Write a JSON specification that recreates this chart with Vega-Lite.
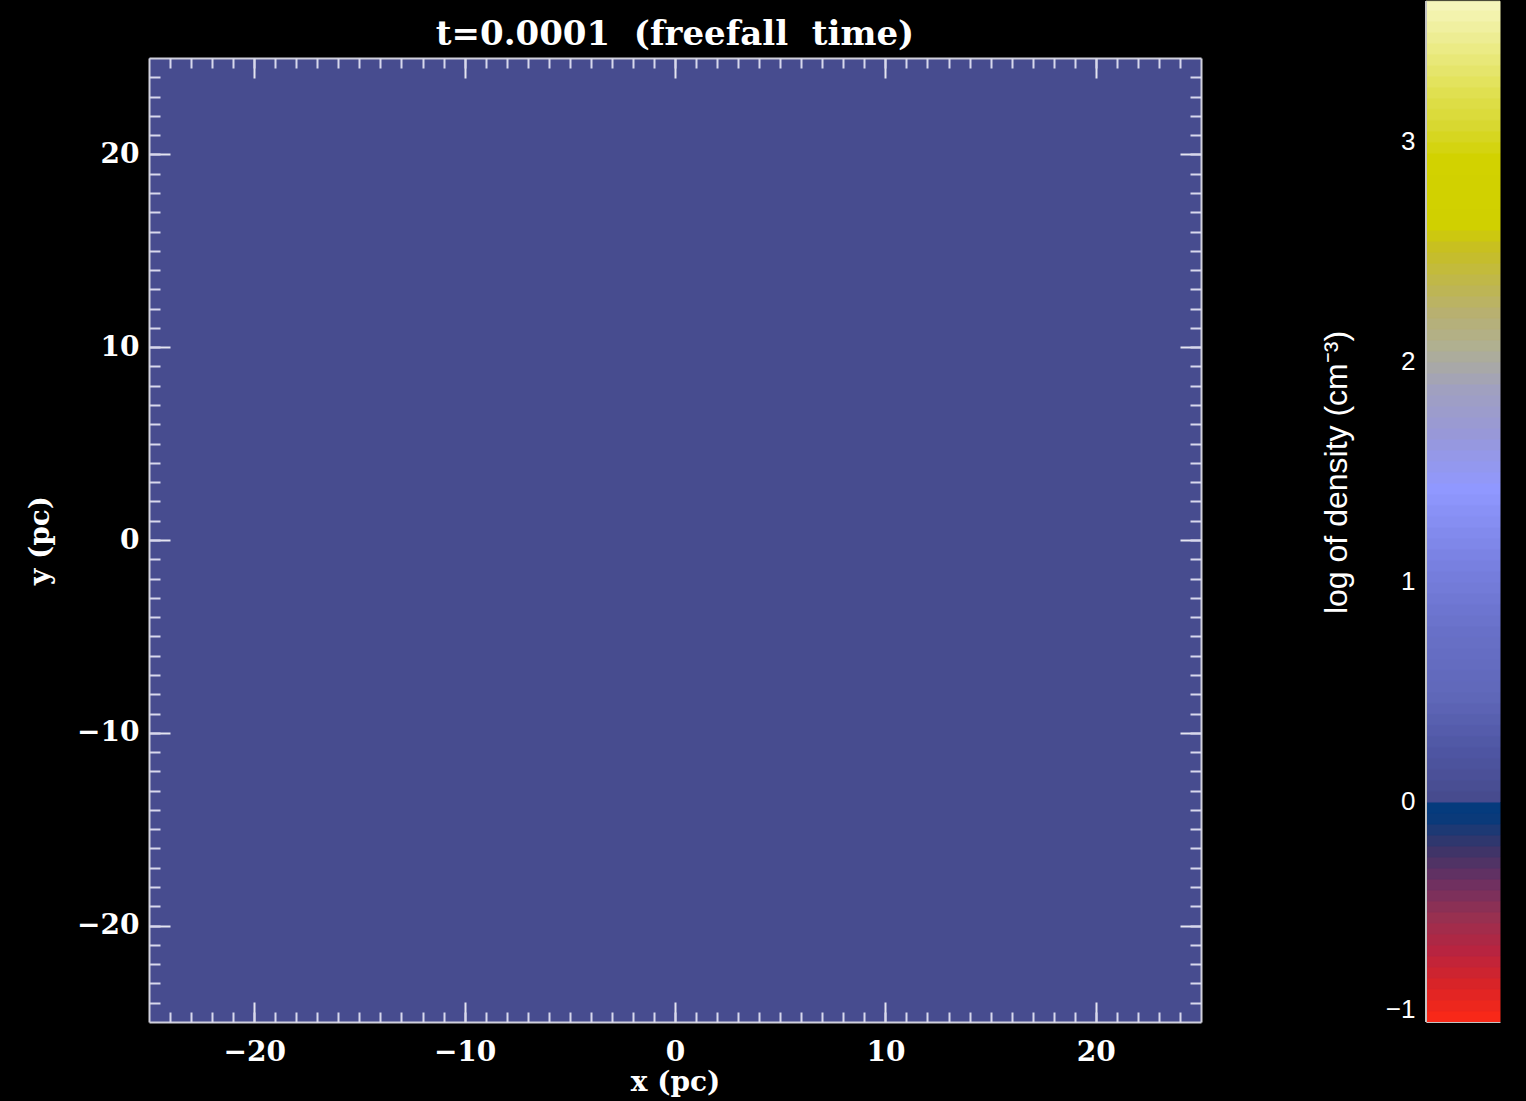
{
  "$schema": "https://vega.github.io/schema/vega-lite/v6.json",
  "background": "black",
  "padding": {"left": 26, "top": 0, "right": 40, "bottom": 10},
  "spacing": 118,
  "config": {"view": {"stroke": null}, "axis": {"grid": false}},
  "resolve": {"scale": {"color": "shared"}},
  "hconcat": [
    {
      "title": {"text": "t=0.0001 \u00a0(freefall \u00a0time)", "font": "DejaVu Serif", "fontWeight": "bold", "fontSize": 34, "color": "white", "offset": 5, "anchor": "middle", "frame": "group"},
      "width": 1052,
      "height": 964,
      "data": {"values": [{"x0": -25, "x1": 25, "y0": -25, "y1": 25, "logd": 0.01}]},
      "layer": [
        {
          "mark": {"type": "rect"},
          "encoding": {
            "x": {"field": "x0", "type": "quantitative", "scale": {"domain": [-25, 25], "nice": false, "zero": false},
              "axis": {"orient": "bottom", "values": [-20, -10, 0, 10, 20], "tickSize": -20, "tickWidth": 2, "tickColor": "#E4E4F0", "domain": true, "domainColor": "#D0D0DC", "domainWidth": 2, "labelPadding": 36, "labelFont": "DejaVu Serif", "labelFontWeight": "bold", "labelFontSize": 28, "labelColor": "white", "labelFlush": false, "title": "x (pc)", "titleFont": "DejaVu Serif", "titleFontWeight": "bold", "titleFontSize": 28, "titleColor": "white", "titlePadding": 2, "zindex": 1}},
            "x2": {"field": "x1"},
            "y": {"field": "y0", "type": "quantitative", "scale": {"domain": [-25, 25], "nice": false, "zero": false},
              "axis": {"orient": "left", "values": [-20, -10, 0, 10, 20], "tickSize": -21, "tickWidth": 2, "tickColor": "#E4E4F0", "domain": true, "domainColor": "#D0D0DC", "domainWidth": 2, "labelPadding": 31, "labelFont": "DejaVu Serif", "labelFontWeight": "bold", "labelFontSize": 28, "labelColor": "white", "labelFlush": false, "title": "y (pc)", "titleFont": "DejaVu Serif", "titleFontWeight": "bold", "titleFontSize": 28, "titleColor": "white", "titlePadding": 22, "zindex": 1}},
            "y2": {"field": "y1"},
            "color": {"field": "logd", "type": "quantitative", "legend": null,
              "scale": {"domain": [-1, -0.85, -0.7, -0.55, -0.4, -0.25, -0.18, -0.1, -0.001, 0, 0.2, 0.45, 0.75, 1.05, 1.4, 1.65, 1.85, 2.05, 2.2, 2.35, 2.5, 2.6, 2.9, 3.05, 3.2, 3.35, 3.5, 3.65],
                "range": ["#F82818", "#D82428", "#B82440", "#983050", "#703060", "#403468", "#283870", "#0A3A7A", "#003C80", "#474B8E", "#4E55A2", "#5F67B8", "#6870C8", "#7880E0", "#9098FF", "#9898D8", "#A0A0C0", "#B0B090", "#B8B070", "#C0B848", "#C8C020", "#D0D000", "#D2D200", "#D8D830", "#E0E050", "#E8E878", "#F0F0A0", "#F8F8C8"],
                "interpolate": "rgb", "nice": false, "zero": false}}
          }
        },
        {
          "mark": {"type": "rect"},
          "encoding": {
            "x": {"field": "x0", "type": "quantitative",
              "axis": {"orient": "bottom", "values": [-24, -23, -22, -21, -20, -19, -18, -17, -16, -15, -14, -13, -12, -11, -10, -9, -8, -7, -6, -5, -4, -3, -2, -1, 0, 1, 2, 3, 4, 5, 6, 7, 8, 9, 10, 11, 12, 13, 14, 15, 16, 17, 18, 19, 20, 21, 22, 23, 24], "tickSize": -10, "tickWidth": 2, "tickColor": "#D8D8EC", "domain": false, "labels": false, "title": null, "zindex": 1}},
            "x2": {"field": "x1"},
            "y": {"field": "y0", "type": "quantitative",
              "axis": {"orient": "left", "values": [-24, -23, -22, -21, -20, -19, -18, -17, -16, -15, -14, -13, -12, -11, -10, -9, -8, -7, -6, -5, -4, -3, -2, -1, 0, 1, 2, 3, 4, 5, 6, 7, 8, 9, 10, 11, 12, 13, 14, 15, 16, 17, 18, 19, 20, 21, 22, 23, 24], "tickSize": -11, "tickWidth": 2, "tickColor": "#D8D8EC", "domain": false, "labels": false, "title": null, "zindex": 1}},
            "y2": {"field": "y1"},
            "color": {"field": "logd", "type": "quantitative", "legend": null}
          }
        },
        {
          "mark": {"type": "rect"},
          "encoding": {
            "x": {"field": "x0", "type": "quantitative",
              "axis": {"orient": "top", "values": [-20, -10, 0, 10, 20], "tickSize": -20, "tickWidth": 2, "tickColor": "#E4E4F0", "domain": true, "domainColor": "#D0D0DC", "domainWidth": 2, "labels": false, "title": null, "zindex": 1}},
            "x2": {"field": "x1"},
            "y": {"field": "y0", "type": "quantitative",
              "axis": {"orient": "right", "values": [-20, -10, 0, 10, 20], "tickSize": -21, "tickWidth": 2, "tickColor": "#E4E4F0", "domain": true, "domainColor": "#D0D0DC", "domainWidth": 2, "labels": false, "title": null, "zindex": 1}},
            "y2": {"field": "y1"},
            "color": {"field": "logd", "type": "quantitative", "legend": null}
          }
        },
        {
          "mark": {"type": "rect"},
          "encoding": {
            "x": {"field": "x0", "type": "quantitative",
              "axis": {"orient": "top", "values": [-24, -23, -22, -21, -20, -19, -18, -17, -16, -15, -14, -13, -12, -11, -10, -9, -8, -7, -6, -5, -4, -3, -2, -1, 0, 1, 2, 3, 4, 5, 6, 7, 8, 9, 10, 11, 12, 13, 14, 15, 16, 17, 18, 19, 20, 21, 22, 23, 24], "tickSize": -10, "tickWidth": 2, "tickColor": "#D8D8EC", "domain": false, "labels": false, "title": null, "zindex": 1}},
            "x2": {"field": "x1"},
            "y": {"field": "y0", "type": "quantitative",
              "axis": {"orient": "right", "values": [-24, -23, -22, -21, -20, -19, -18, -17, -16, -15, -14, -13, -12, -11, -10, -9, -8, -7, -6, -5, -4, -3, -2, -1, 0, 1, 2, 3, 4, 5, 6, 7, 8, 9, 10, 11, 12, 13, 14, 15, 16, 17, 18, 19, 20, 21, 22, 23, 24], "tickSize": -11, "tickWidth": 2, "tickColor": "#D8D8EC", "domain": false, "labels": false, "title": null, "zindex": 1}},
            "y2": {"field": "y1"},
            "color": {"field": "logd", "type": "quantitative", "legend": null}
          }
        }
      ],
      "resolve": {"scale": {"x": "shared", "y": "shared"}, "axis": {"x": "independent", "y": "independent"}}
    },
    {
      "width": 74,
      "height": 964,
      "data": {"values": [
        {"lo": -1, "hi": -0.95}, {"lo": -0.95, "hi": -0.9}, {"lo": -0.9, "hi": -0.85}, {"lo": -0.85, "hi": -0.8}, {"lo": -0.8, "hi": -0.75},
        {"lo": -0.75, "hi": -0.7}, {"lo": -0.7, "hi": -0.65}, {"lo": -0.65, "hi": -0.6}, {"lo": -0.6, "hi": -0.55}, {"lo": -0.55, "hi": -0.5},
        {"lo": -0.5, "hi": -0.45}, {"lo": -0.45, "hi": -0.4}, {"lo": -0.4, "hi": -0.35}, {"lo": -0.35, "hi": -0.3}, {"lo": -0.3, "hi": -0.25},
        {"lo": -0.25, "hi": -0.2}, {"lo": -0.2, "hi": -0.15}, {"lo": -0.15, "hi": -0.1}, {"lo": -0.1, "hi": -0.05}, {"lo": -0.05, "hi": 0},
        {"lo": 0, "hi": 0.05}, {"lo": 0.05, "hi": 0.1}, {"lo": 0.1, "hi": 0.15}, {"lo": 0.15, "hi": 0.2}, {"lo": 0.2, "hi": 0.25},
        {"lo": 0.25, "hi": 0.3}, {"lo": 0.3, "hi": 0.35}, {"lo": 0.35, "hi": 0.4}, {"lo": 0.4, "hi": 0.45}, {"lo": 0.45, "hi": 0.5},
        {"lo": 0.5, "hi": 0.55}, {"lo": 0.55, "hi": 0.6}, {"lo": 0.6, "hi": 0.65}, {"lo": 0.65, "hi": 0.7}, {"lo": 0.7, "hi": 0.75},
        {"lo": 0.75, "hi": 0.8}, {"lo": 0.8, "hi": 0.85}, {"lo": 0.85, "hi": 0.9}, {"lo": 0.9, "hi": 0.95}, {"lo": 0.95, "hi": 1},
        {"lo": 1, "hi": 1.05}, {"lo": 1.05, "hi": 1.1}, {"lo": 1.1, "hi": 1.15}, {"lo": 1.15, "hi": 1.2}, {"lo": 1.2, "hi": 1.25},
        {"lo": 1.25, "hi": 1.3}, {"lo": 1.3, "hi": 1.35}, {"lo": 1.35, "hi": 1.4}, {"lo": 1.4, "hi": 1.45}, {"lo": 1.45, "hi": 1.5},
        {"lo": 1.5, "hi": 1.55}, {"lo": 1.55, "hi": 1.6}, {"lo": 1.6, "hi": 1.65}, {"lo": 1.65, "hi": 1.7}, {"lo": 1.7, "hi": 1.75},
        {"lo": 1.75, "hi": 1.8}, {"lo": 1.8, "hi": 1.85}, {"lo": 1.85, "hi": 1.9}, {"lo": 1.9, "hi": 1.95}, {"lo": 1.95, "hi": 2},
        {"lo": 2, "hi": 2.05}, {"lo": 2.05, "hi": 2.1}, {"lo": 2.1, "hi": 2.15}, {"lo": 2.15, "hi": 2.2}, {"lo": 2.2, "hi": 2.25},
        {"lo": 2.25, "hi": 2.3}, {"lo": 2.3, "hi": 2.35}, {"lo": 2.35, "hi": 2.4}, {"lo": 2.4, "hi": 2.45}, {"lo": 2.45, "hi": 2.5},
        {"lo": 2.5, "hi": 2.55}, {"lo": 2.55, "hi": 2.6}, {"lo": 2.6, "hi": 2.65}, {"lo": 2.65, "hi": 2.7}, {"lo": 2.7, "hi": 2.75},
        {"lo": 2.75, "hi": 2.8}, {"lo": 2.8, "hi": 2.85}, {"lo": 2.85, "hi": 2.9}, {"lo": 2.9, "hi": 2.95}, {"lo": 2.95, "hi": 3},
        {"lo": 3, "hi": 3.05}, {"lo": 3.05, "hi": 3.1}, {"lo": 3.1, "hi": 3.15}, {"lo": 3.15, "hi": 3.2}, {"lo": 3.2, "hi": 3.25},
        {"lo": 3.25, "hi": 3.3}, {"lo": 3.3, "hi": 3.35}, {"lo": 3.35, "hi": 3.4}, {"lo": 3.4, "hi": 3.45}, {"lo": 3.45, "hi": 3.5},
        {"lo": 3.5, "hi": 3.55}, {"lo": 3.55, "hi": 3.6}, {"lo": 3.6, "hi": 3.64}
      ]},
      "layer": [
        {
          "mark": {"type": "rect", "strokeWidth": 1},
          "encoding": {
            "x": {"datum": 0, "type": "quantitative", "scale": {"domain": [0, 1], "nice": false, "zero": false},
              "axis": {"orient": "bottom", "domain": true, "domainColor": "#C4C4C4", "domainWidth": 1, "ticks": false, "labels": false, "title": null, "zindex": 1}},
            "x2": {"datum": 1},
            "y": {"field": "lo", "type": "quantitative", "scale": {"domain": [-1, 3.3818], "nice": false, "zero": false},
              "axis": {"orient": "left", "values": [-1, 0, 1, 2, 3], "format": "d", "ticks": false, "domain": false, "labelPadding": 11, "labelFont": "Liberation Sans", "labelFontSize": 26, "labelColor": "white", "labelFlush": true, "title": "log of density (cm⁻³)", "titleFont": "Liberation Sans", "titleFontSize": 32, "titleFontWeight": "normal", "titleColor": "white", "titlePadding": 32, "titleY": 414, "zindex": 1}},
            "y2": {"field": "hi"},
            "color": {"field": "lo", "type": "quantitative", "legend": null},
            "stroke": {"field": "lo", "type": "quantitative", "legend": null,
              "scale": {"domain": [-1, -0.85, -0.7, -0.55, -0.4, -0.25, -0.18, -0.1, -0.001, 0, 0.2, 0.45, 0.75, 1.05, 1.4, 1.65, 1.85, 2.05, 2.2, 2.35, 2.5, 2.6, 2.9, 3.05, 3.2, 3.35, 3.5, 3.65],
                "range": ["#F82818", "#D82428", "#B82440", "#983050", "#703060", "#403468", "#283870", "#0A3A7A", "#003C80", "#474B8E", "#4E55A2", "#5F67B8", "#6870C8", "#7880E0", "#9098FF", "#9898D8", "#A0A0C0", "#B0B090", "#B8B070", "#C0B848", "#C8C020", "#D0D000", "#D2D200", "#D8D830", "#E0E050", "#E8E878", "#F0F0A0", "#F8F8C8"],
                "interpolate": "rgb", "nice": false, "zero": false}}
          }
        },
        {
          "mark": {"type": "rule", "color": "#C4C4C4", "strokeWidth": 1},
          "encoding": {
            "x": {"datum": 0, "type": "quantitative"},
            "y": {"datum": -1, "type": "quantitative"},
            "y2": {"datum": 3.64}
          }
        }
      ]
    }
  ]
}
